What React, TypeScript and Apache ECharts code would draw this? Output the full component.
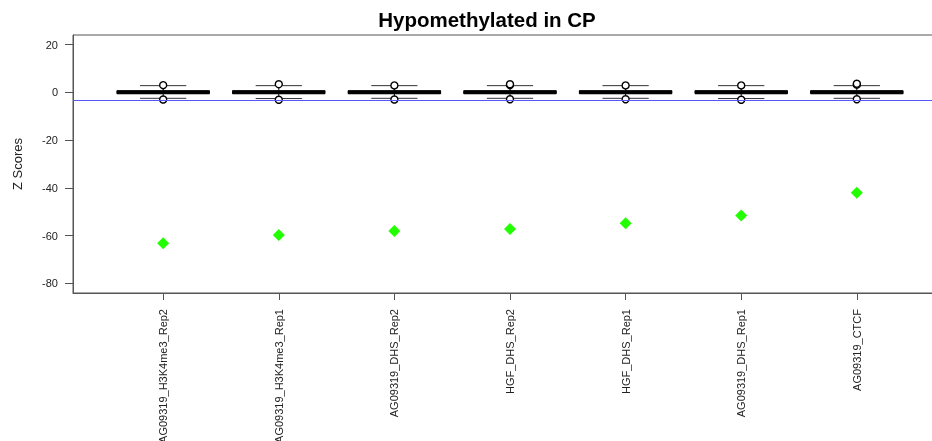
import React, { useEffect, useRef } from "react";
import * as echarts from "echarts";

const categories = [
  "AG09319_H3K4me3_Rep2",
  "AG09319_H3K4me3_Rep1",
  "AG09319_DHS_Rep2",
  "HGF_DHS_Rep2",
  "HGF_DHS_Rep1",
  "AG09319_DHS_Rep1",
  "AG09319_CTCF",
];
const whiskerLow = [-2.5, -2.6, -2.5, -2.5, -2.5, -2.6, -2.5];
const q1 = [-0.6, -0.6, -0.6, -0.6, -0.6, -0.6, -0.6];
const medians = [0, 0, 0, 0, 0, 0, 0];
const q3 = [0.7, 0.7, 0.7, 0.7, 0.7, 0.7, 0.7];
const whiskerHigh = [2.8, 2.8, 2.8, 2.8, 2.8, 2.8, 2.8];
const upperOutliers = [[3.0], [3.4], [2.9], [3.0, 3.4], [2.9], [2.9], [3.2, 3.6]];
const lowerOutliers = [[-3.0], [-3.1], [-3.0], [-2.9], [-2.9], [-3.1], [-2.9]];
const zScores = [-63.2, -59.7, -58.0, -57.2, -54.8, -51.6, -42.0];
const threshold = -3.5;
const yTicks = [-80, -60, -40, -20, 0, 20];
const xTicks = [1, 2, 3, 4, 5, 6, 7];

const FONT = "'Liberation Sans', Arial, Helvetica, sans-serif";

export default function App() {
  const ref = useRef<HTMLDivElement>(null);
  useEffect(() => {
    if (!ref.current) return;
    const chart = echarts.init(ref.current, null, { renderer: "svg" });
    const boxData = categories.map((_, i) => [
      i + 1,
      whiskerLow[i],
      q1[i],
      medians[i],
      q3[i],
      whiskerHigh[i],
    ]);
    const outlierData: number[][] = [];
    categories.forEach((_, i) => {
      upperOutliers[i].forEach((v) => outlierData.push([i + 1, v]));
      lowerOutliers[i].forEach((v) => outlierData.push([i + 1, v]));
    });
    const pointData = zScores.map((v, i) => [i + 1, v]);

    chart.setOption({
      animation: false,
      textStyle: { fontFamily: FONT },
      grid: {
        left: 73,
        top: 35,
        width: 874,
        bottom: 148,
        show: true,
        borderColor: "#555",
        borderWidth: 1,
        containLabel: false,
        outerBoundsMode: "none",
      },
      graphic: [
        {
          type: "text",
          x: 487,
          y: 9,
          style: {
            text: "Hypomethylated in CP",
            align: "center",
            verticalAlign: "top",
            font: `bold 20.5px ${FONT}`,
            fill: "#000",
          },
        },
      ],
      xAxis: {
        type: "value",
        min: 0.22,
        max: 7.78,
        splitLine: { show: false },
        axisLine: { show: true, onZero: false, lineStyle: { color: "#555", width: 1 } },
        axisTick: {
          show: true,
          customValues: xTicks,
          length: 7,
          lineStyle: { color: "#555" },
        },
        axisLabel: {
          customValues: xTicks,
          rotate: 90,
          margin: 16,
          fontSize: 11,
          color: "#222",
          fontFamily: FONT,
          formatter: (v: number) => categories[Math.round(v) - 1] ?? "",
        },
      },
      yAxis: {
        type: "value",
        min: -84,
        max: 24,
        name: "Z Scores",
        nameLocation: "middle",
        nameGap: 49,
        nameTextStyle: { fontSize: 13, color: "#222", fontFamily: FONT },
        splitLine: { show: false },
        axisLine: { show: true, onZero: false, lineStyle: { color: "#555", width: 1 } },
        axisTick: {
          show: true,
          customValues: yTicks,
          length: 8,
          lineStyle: { color: "#555" },
        },
        axisLabel: {
          customValues: yTicks,
          margin: 15,
          fontSize: 11,
          color: "#222",
          fontFamily: FONT,
        },
      },
      series: [
        {
          type: "custom",
          data: boxData,
          encode: { x: 0, y: [1, 2, 3, 4, 5] },
          z: 2,
          renderItem: (params: any, api: any) => {
            const x = api.value(0);
            const pMin = api.coord([x, api.value(1)]);
            const pQ1 = api.coord([x, api.value(2)]);
            const pMed = api.coord([x, api.value(3)]);
            const pQ3 = api.coord([x, api.value(4)]);
            const pMax = api.coord([x, api.value(5)]);
            const boxW = api.size([0.8, 0])[0];
            const capW = boxW / 2;
            const cx = pMed[0];
            return {
              type: "group",
              children: [
                {
                  type: "line",
                  shape: { x1: cx, y1: pQ3[1], x2: cx, y2: pMax[1] },
                  style: { stroke: "#000", lineWidth: 1, lineDash: [3, 2] },
                },
                {
                  type: "line",
                  shape: { x1: cx, y1: pQ1[1], x2: cx, y2: pMin[1] },
                  style: { stroke: "#000", lineWidth: 1, lineDash: [3, 2] },
                },
                {
                  type: "line",
                  shape: { x1: cx - capW / 2, y1: pMax[1], x2: cx + capW / 2, y2: pMax[1] },
                  style: { stroke: "#333", lineWidth: 1 },
                },
                {
                  type: "line",
                  shape: { x1: cx - capW / 2, y1: pMin[1], x2: cx + capW / 2, y2: pMin[1] },
                  style: { stroke: "#333", lineWidth: 1 },
                },
                {
                  type: "rect",
                  shape: {
                    x: cx - boxW / 2,
                    y: pQ3[1],
                    width: boxW,
                    height: pQ1[1] - pQ3[1],
                  },
                  style: { fill: "#000", stroke: "#000", lineWidth: 1 },
                },
                {
                  type: "line",
                  shape: { x1: cx - boxW / 2, y1: pMed[1], x2: cx + boxW / 2, y2: pMed[1] },
                  style: { stroke: "#000", lineWidth: 3 },
                },
              ],
            };
          },
        },
        {
          type: "scatter",
          data: outlierData,
          symbol: "circle",
          symbolSize: 7,
          z: 3,
          itemStyle: { color: "#fff", borderColor: "#000", borderWidth: 1.4, opacity: 1 },
        },
        {
          type: "scatter",
          data: pointData,
          symbol: "diamond",
          symbolSize: [12, 12],
          z: 4,
          itemStyle: { color: "#22ff00", opacity: 1 },
          markLine: {
            silent: true,
            symbol: ["none", "none"],
            label: { show: false },
            itemStyle: { color: "#5555ff" },
            lineStyle: { color: "#5555ff", width: 1, type: "solid", opacity: 1 },
            data: [{ yAxis: threshold }],
            z: 5,
          },
        },
      ],
    });
    return () => chart.dispose();
  }, []);
  return (
    <div
      ref={ref}
      style={{ position: "fixed", left: 0, top: 0, width: 932, height: 441 }}
    />
  );
}
